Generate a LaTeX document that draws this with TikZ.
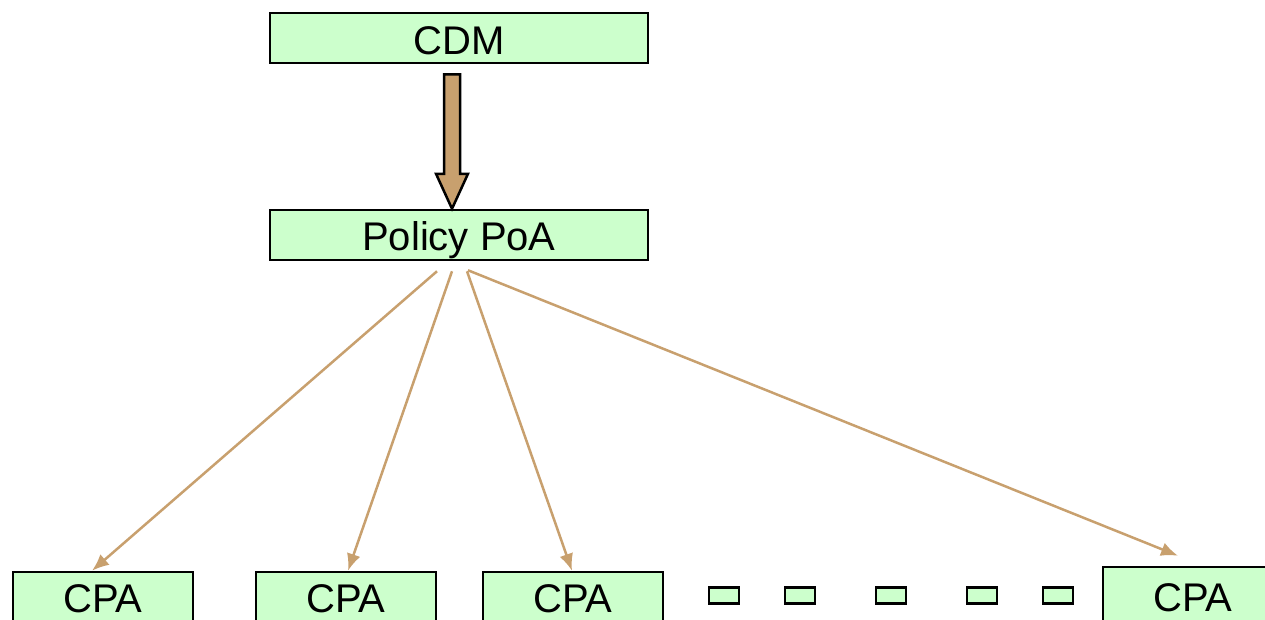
\documentclass[tikz,border=0pt]{standalone}
\usepackage{fontspec}
\setmainfont{Liberation Sans}
\usetikzlibrary{arrows.meta,calc}
\definecolor{boxgreen}{HTML}{CCFFCC}
\definecolor{tan}{HTML}{C8A06E}
\begin{document}
\begin{tikzpicture}[x=1pt,y=-1pt,
  box/.style={draw=black,fill=boxgreen,line width=2.5pt,inner sep=0pt,text height=28.6pt,text depth=0pt,font=\fontsize{40}{42}\selectfont},
  topbox/.style={box,minimum width=378pt,minimum height=50pt},
  cpabox/.style={box,minimum width=180pt,minimum height=52pt},
  dotbox/.style={draw=black,fill=boxgreen,line width=2.5pt,inner sep=0pt,minimum width=30pt,minimum height=16pt},
  thin/.style={draw=tan,line width=2.5pt,-{Latex[length=17pt,width=14pt]}}]
\useasboundingbox (0,0) rectangle (1265,619);
\clip (0,0) rectangle (1265,619);
\node[topbox] (cdm) at (459,38) {};
\node at (459,40.5) [font=\fontsize{40}{42}\selectfont,inner sep=0pt,text height=28.6pt,text depth=0pt] (cdmt) {CDM};
\node[topbox] (poa) at (459,235) {};
\node at (459,236) [font=\fontsize{40}{42}\selectfont,inner sep=0pt,text height=28.6pt,text depth=0pt] (poat) {Policy PoA};
\node[cpabox] (c1) at (103,598) {CPA};
\node[cpabox] (c2) at (346,598) {CPA};
\node[cpabox] (c3) at (573,598) {CPA};
\node[box,minimum width=180pt,minimum height=60pt] (c4) at (1193,597) {CPA};
\node[dotbox] (d1) at (724,595.5) {};
\node[dotbox] (d2) at (800,595.5) {};
\node[dotbox] (d3) at (891,595.5) {};
\node[dotbox] (d4) at (982,595.5) {};
\node[dotbox] (d5) at (1058,595.5) {};
% big block arrow from CDM to Policy PoA
\coordinate (bt) at ($(cdm.south)+(-7,10)$);
\coordinate (bh) at ($(poa.north)+(-7,0)$);
\draw[black,fill=tan,line width=2.5pt,line join=miter]
  ($(bt)+(-8,0)$) -- ($(bt)+(8,0)$) -- ($(bh)+(8,-35)$) -- ($(bh)+(16,-35)$)
  -- (bh) -- ($(bh)+(-16,-35)$) -- ($(bh)+(-8,-35)$) -- cycle;
% thin arrows
\coordinate (s1) at ($(poa.south)+(-22,10)$);
\coordinate (s2) at ($(poa.south)+(-7,10)$);
\coordinate (s3) at ($(poa.south)+(8,10)$);
\coordinate (s4) at ($(poa.south)+(9,9)$);
\coordinate (e1) at ($(c1.north)+(-11,0)$);
\coordinate (e2) at ($(c2.north)+(2,0)$);
\coordinate (e3) at ($(c3.north)+(-1,0)$);
\coordinate (e4) at ($(c4.north)+(-15,-10)$);
\draw[thin] (s1) -- (e1);
\draw[thin] (s2) -- (e2);
\draw[thin] (s3) -- (e3);
\draw[thin] (s4) -- (e4);
\end{tikzpicture}
\end{document}
